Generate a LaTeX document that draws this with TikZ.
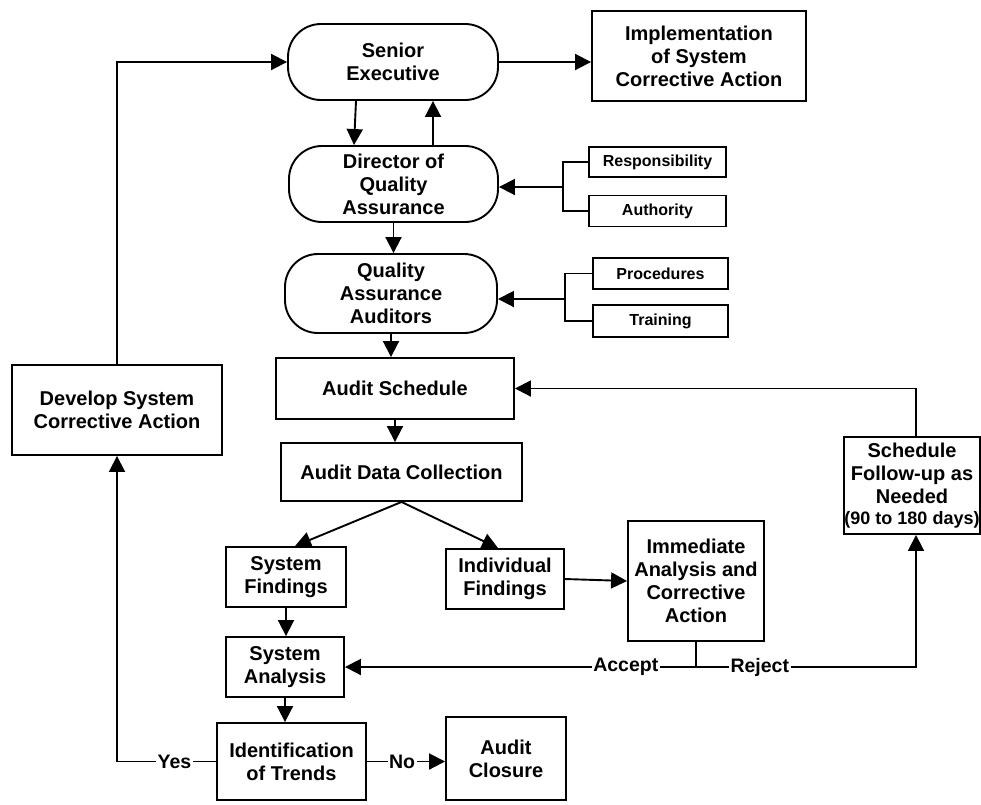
\documentclass[tikz,border=0pt]{standalone}
\usepackage{fontspec}
\setmainfont{Liberation Sans}
\usetikzlibrary{arrows.meta}
\begin{document}
\begin{tikzpicture}[x=1pt,y=-1pt,
  every node/.style={font=\fontsize{20}{23}\selectfont\bfseries, align=center, inner sep=0pt},
  box/.style={draw, line width=1.9pt},
  stadium/.style={draw, line width=1.9pt, rounded corners=33pt},
  small/.style={draw, line width=1.9pt, font=\fontsize{16}{19}\selectfont\bfseries},
  arr/.style={-{Triangle[length=16pt,width=16pt]}, line width=1.9pt},
  ln/.style={line width=1.9pt},
  lab/.style={fill=white, inner sep=1.5pt, font=\fontsize{19.5}{22}\selectfont\bfseries}]
\useasboundingbox[fill=white] (0,0) rectangle (981,804);

% nodes
\node[stadium, minimum width=210, minimum height=76] (sen) at (393,62) {Senior\\Executive};
\node[box, minimum width=214, minimum height=90] (impl) at (699,56) {Implementation\\of System\\Corrective Action};
\node[stadium, minimum width=209, minimum height=76] (dir) at (393.5,184) {Director of\\Quality\\Assurance};
\node[small, minimum width=137, minimum height=30] (resp) at (657.5,162) {Responsibility};
\node[small, minimum width=137, minimum height=31] (auth) at (657.5,211) {Authority};
\node[stadium, minimum width=212, minimum height=79] (qaa) at (391,293.5) {Quality\\Assurance\\Auditors};
\node[small, minimum width=135, minimum height=31] (proc) at (660.5,273.5) {Procedures};
\node[small, minimum width=135, minimum height=32] (train) at (660.5,321) {Training};
\node[box, minimum width=238, minimum height=61] (sched) at (395,388.5) {Audit Schedule};
\node[box, minimum width=241, minimum height=58] (adc) at (401.5,472) {Audit Data Collection};
\node[box, minimum width=210, minimum height=90] (dev) at (117,410) {Develop System\\Corrective Action};
\node[box, minimum width=120, minimum height=60] (sf) at (286,577) {System\\Findings};
\node[box, minimum width=118, minimum height=60] (if) at (505,579) {Individual\\Findings};
\node[box, minimum width=136, minimum height=120] (ia) at (696,581) {Immediate\\Analysis and\\Corrective\\Action};
\node[box, minimum width=136, minimum height=97] (fu) at (912,485.5) {Schedule\\Follow-up as\\Needed\\[-2pt]{\fontsize{18}{20}\selectfont(90 to 180 days)}};
\node[box, minimum width=118, minimum height=60] (sa) at (285,667) {System\\Analysis};
\node[box, minimum width=149, minimum height=77] (it) at (291.5,761.5) {Identification\\of Trends};
\node[box, minimum width=120, minimum height=83] (ac) at (506,758.5) {Audit\\Closure};

% connectors
\draw[arr] (dev.north) |- (sen.west);
\draw[arr] (sen.east) -- (sen.east -| impl.west);
\draw[arr] ([xshift=-37pt]sen.south) -- ([xshift=-39.5pt]dir.north);
\draw[arr] ([xshift=39.5pt]dir.north) -- ([xshift=39.5pt]dir.north |- sen.south);

\coordinate (b1) at (563,187);
\draw[ln] (resp.west) -- (resp.west -| b1) -- (auth.west -| b1) -- (auth.west);
\draw[arr] (b1) -- (b1 -| dir.east);

\draw[arr] (dir.south) -- (dir.south |- qaa.north);

\coordinate (b2) at (565,299);
\draw[ln] (proc.west) -- (proc.west -| b2) -- (train.west -| b2) -- (train.west);
\draw[arr] (b2) -- (b2 -| qaa.east);

\draw[arr] (qaa.south) -- (qaa.south |- sched.north);
\draw[arr] (sched.south) -- (sched.south |- adc.north);
\draw[arr] (adc.south) -- ([xshift=9pt]sf.north);
\draw[arr] (adc.south) -- ([xshift=-7pt]if.north);
\draw[arr] (sf.south) -- (sf.south |- sa.north);
\draw[arr] (if.east) -- (ia.west);

\coordinate (j) at (ia.south |- sa.east);
\draw[ln] (ia.south) -- (j);
\draw[arr] (j) -- node[lab, pos=0.2] {Accept} (sa.east);
\coordinate (fub) at ([xshift=4pt]fu.south);
\draw[arr] (j) -- node[lab, pos=0.29] {Reject} (j -| fub) -- (fub);
\draw[arr] ([xshift=4pt]fu.north) |- (sched.east);

\draw[arr] (sa.south) -- (sa.south |- it.north);
\draw[arr] (it.east) -- node[lab, pos=0.45] {No} (it.east -| ac.west);
\draw[arr] (it.west) -| node[lab, pos=0.21] {Yes} (dev.south);
\end{tikzpicture}
\end{document}
